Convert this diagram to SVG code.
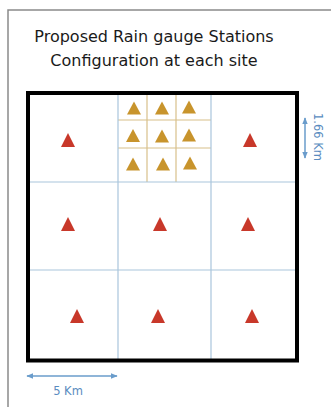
<svg xmlns="http://www.w3.org/2000/svg" width="331" height="407" viewBox="0 0 331 407">
<style>
.title{font-family:"DejaVu Sans","Liberation Sans",sans-serif;font-size:16px;fill:#1a1a1a;text-anchor:middle}
.dim{font-family:"DejaVu Sans","Liberation Sans",sans-serif;font-size:11.5px;fill:#5a8cc0;text-anchor:middle}
.grid{stroke:#a9c5dc;stroke-width:1.2;fill:none}
.sub{stroke:#d8c08a;stroke-width:1.2;fill:none}
.red{fill:#c8382a}
.gold{fill:#c8942c}
.dimline{stroke:#6a9ccb;stroke-width:1.5;fill:none}
</style>
<defs>
<path id="tr" d="M0,-7 L7,7 L-7,7 Z"/>
<path id="tg" d="M0,-6.5 L7,6.5 L-7,6.5 Z"/>
<marker id="ah" viewBox="0 0 10 10" refX="9" refY="5" markerWidth="7" markerHeight="7" orient="auto-start-reverse" markerUnits="userSpaceOnUse">
<path d="M0,1 L10,5 L0,9 Z" fill="#6a9ccb"/>
</marker>
</defs>
<rect x="0" y="0" width="331" height="407" fill="#ffffff"/>
<g id="frame">
<path d="M8,407 L8,10 L331,10" fill="none" stroke="#8a8a8a" stroke-width="1.5"/>
</g>
<g id="title">
<text class="title" x="154" y="42">Proposed Rain gauge Stations</text>
<text class="title" x="154" y="66">Configuration at each site</text>
</g>
<g id="subgrid">
<line class="sub" x1="147" y1="93" x2="147" y2="182"/>
<line class="sub" x1="176" y1="93" x2="176" y2="182"/>
<line class="sub" x1="118" y1="120" x2="211" y2="120"/>
<line class="sub" x1="118" y1="148" x2="211" y2="148"/>
</g>
<g id="grid">
<line class="grid" x1="118" y1="93" x2="118" y2="360"/>
<line class="grid" x1="211" y1="93" x2="211" y2="360"/>
<line class="grid" x1="28" y1="182" x2="297" y2="182"/>
<line class="grid" x1="28" y1="270" x2="297" y2="270"/>
</g>
<g id="site">
<rect x="28" y="93" width="269" height="267.5" fill="none" stroke="#000" stroke-width="4"/>
</g>
<g id="red-stations" class="red">
<use href="#tr" x="68" y="140"/>
<use href="#tr" x="250" y="140"/>
<use href="#tr" x="68" y="224"/>
<use href="#tr" x="160" y="224"/>
<use href="#tr" x="248" y="224"/>
<use href="#tr" x="77" y="316"/>
<use href="#tr" x="158" y="316"/>
<use href="#tr" x="252" y="316"/>
</g>
<g id="gold-stations" class="gold">
<use href="#tg" x="134" y="108"/>
<use href="#tg" x="162" y="108"/>
<use href="#tg" x="189" y="107"/>
<use href="#tg" x="133" y="135.5"/>
<use href="#tg" x="162" y="136"/>
<use href="#tg" x="189" y="135"/>
<use href="#tg" x="133" y="164"/>
<use href="#tg" x="163" y="164"/>
<use href="#tg" x="190" y="163"/>
</g>
<g id="connectors">
<line class="dimline" x1="305" y1="118" x2="305" y2="158" marker-start="url(#ah)" marker-end="url(#ah)"/>
<line class="dimline" x1="27" y1="376" x2="117" y2="376" marker-start="url(#ah)" marker-end="url(#ah)"/>
</g>
<g id="dim-labels">
<text class="dim" transform="translate(314,137) rotate(90)">1.66 Km</text>
<text class="dim" x="68" y="395">5 Km</text>
</g>
</svg>
